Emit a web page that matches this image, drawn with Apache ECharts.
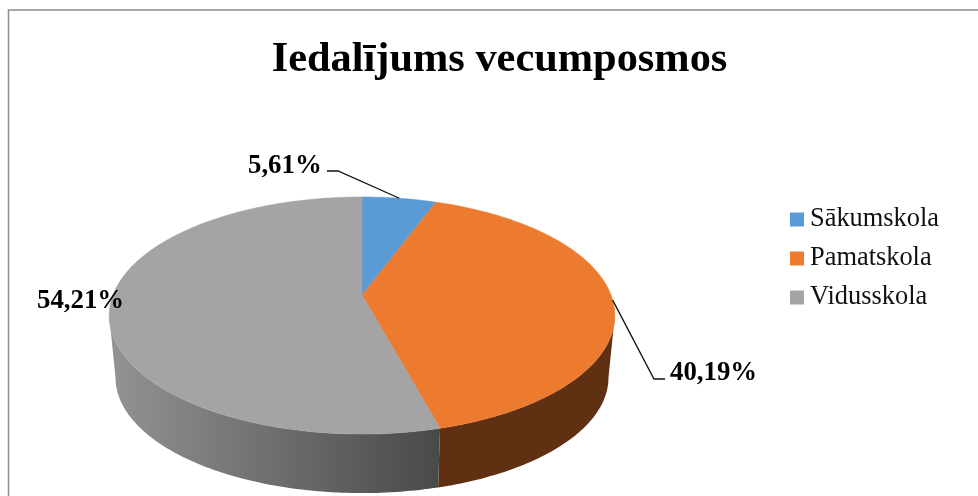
<!DOCTYPE html>
<html><head><meta charset="utf-8">
<style>html,body{margin:0;padding:0;background:#fff}#c{width:978px;height:496px}</style>
<script src="https://cdn.jsdelivr.net/npm/echarts@6/dist/echarts.min.js"></script>
</head><body><div id="c"></div>
<script>
const titleText = 'Iedalījums vecumposmos';
const categories = ['Sākumskola', 'Pamatskola', 'Vidusskola'];
const values = [5.61, 40.19, 54.21];
const topColors = ['#5b9bd5', '#ec7b30', '#a4a4a4'];

const total = values.reduce((a, b) => a + b, 0);
const serif = '"Liberation Serif","Times New Roman",serif';
// perspective disc: apex, radii and perspective strength
const disc = {cx: 362, cy: 295, a: 249, b: 115, k: 0.173, depth: 62.5, shrink: 0.975};
function project(theta, lower) {
  const u = Math.sin(theta), v = -Math.cos(theta), w = 1 - disc.k * v;
  const s = lower ? disc.shrink : 1;
  return [disc.cx + disc.a * s * u / w, disc.cy + (lower ? disc.depth : 0) + disc.b * s * v / w];
}
function sliceRange(i) {
  let before = 0;
  for (let j = 0; j < i; j++) before += values[j];
  return [before / total * 2 * Math.PI, (before + values[i]) / total * 2 * Math.PI];
}
function arc(t0, t1, lower) {
  const n = Math.max(2, Math.ceil((t1 - t0) * 60)), pts = [];
  for (let i = 0; i <= n; i++) pts.push(project(t0 + (t1 - t0) * i / n, lower));
  return pts;
}
const wallFill = [
  '#3a6a94',
  '#5f3112',
  {type: 'linear', x: 0, y: 0, x2: 1, y2: 0, colorStops: [{offset: 0, color: '#939393'}, {offset: 1, color: '#494949'}]}
];
const labelBoxes = [
  {x: 248, y: 166, line: [[327, 171], [338, 171]]},
  {x: 670, y: 373, line: [[665, 379], [654, 379]]},
  {x: 37, y: 301, line: null}
];
// the disc's silhouette meets the wall where the rim is at its widest
const tangent = Math.acos(-disc.k);

function renderWall(params) {
  const i = params.dataIndex, r = sliceRange(i);
  const t0 = Math.max(r[0], tangent), t1 = Math.min(r[1], 2 * Math.PI - tangent);
  if (t1 <= t0) return {type: 'group', children: []};
  const pts = arc(t0, t1, false).concat(arc(t0, t1, true).reverse());
  return {type: 'polygon', shape: {points: pts}, style: {fill: wallFill[i]}};
}
function renderTop(i) {
  return function () {
    const r = sliceRange(i);
    const pts = [[disc.cx, disc.cy]].concat(arc(r[0], r[1], false));
    const children = [{type: 'polygon', shape: {points: pts}, style: {fill: topColors[i], stroke: topColors[i], lineWidth: 0.5}}];
    const box = labelBoxes[i];
    if (box.line) {
      const anchor = project((r[0] + r[1]) / 2, false);
      const path = box.line.slice();
      path.push(anchor);
      children.push({type: 'polyline', z2: 10, shape: {points: path}, style: {fill: null, stroke: '#111', lineWidth: 1.3}});
    }
    children.push({type: 'text', z2: 10, style: {
      x: box.x, y: box.y, text: values[i].toFixed(2).replace('.', ',') + '%',
      font: 'bold 26.8px ' + serif, fill: '#000', verticalAlign: 'middle', align: 'left'
    }});
    return {type: 'group', children};
  };
}

const series = [{
  type: 'custom', name: 'walls', coordinateSystem: 'none', z: 1, silent: true,
  data: values, renderItem: renderWall
}];
categories.forEach((name, i) => series.push({
  type: 'custom', name, coordinateSystem: 'none', z: 2, silent: true,
  itemStyle: {color: topColors[i]},
  data: [values[i]], renderItem: renderTop(i)
}));

const chart = echarts.init(document.getElementById('c'), null, {renderer: 'canvas'});
chart.setOption({
  animation: false,
  backgroundColor: '#fff',
  title: {text: titleText, left: 494.5, textAlign: 'center', top: 34,
    textStyle: {fontFamily: serif, fontWeight: 'bold', fontSize: 42.4, color: '#000'}},
  legend: {
    data: categories, orient: 'vertical', left: 790, top: 205, padding: 0, itemGap: 10,
    icon: 'rect', itemWidth: 14, itemHeight: 14, selectedMode: false,
    textStyle: {fontFamily: serif, fontSize: 26.4, color: '#111', padding: [0, 0, 0, 1], lineHeight: 29}
  },
  graphic: [{type: 'rect', z: 0, shape: {x: 8.5, y: 10, width: 990, height: 520},
    style: {fill: null, stroke: '#8f8f8f', lineWidth: 1.5}}],
  series
});
</script></body></html>
